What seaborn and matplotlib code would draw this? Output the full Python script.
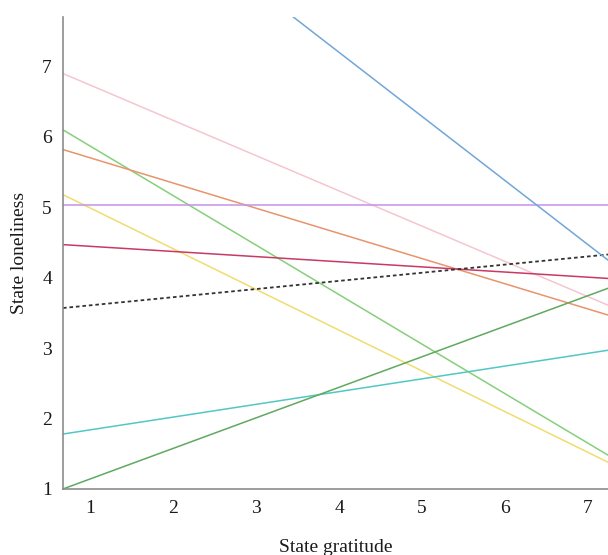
import matplotlib
matplotlib.use("Agg")
import matplotlib.pyplot as plt
import seaborn as sns
import pandas as pd

# Endpoints of each fitted line (x at left and right edge of the axes)
x_ends = [0.675, 7.24]
series = ["pink", "lightgreen", "orange", "yellow", "purple", "crimson",
          "overall", "cyan", "darkgreen", "blue"]
y_left = [6.90, 6.10, 5.82, 5.18, 5.03, 4.47, 3.57, 1.78, 1.00, 10.23]
y_right = [3.61, 1.48, 3.47, 1.38, 5.03, 3.99, 4.33, 2.97, 3.85, 4.25]
colors = ["#f5c6cf", "#86cf7a", "#e8946c", "#f0dc70", "#c690ec", "#c83a64",
          "#333333", "#52c7c4", "#5fa95f", "#72a6d8"]
x_ticks = [1, 2, 3, 4, 5, 6, 7]
y_ticks = [1, 2, 3, 4, 5, 6, 7]

rows = []
for s, yl, yr in zip(series, y_left, y_right):
    rows.append({"series": s, "x": x_ends[0], "y": yl})
    rows.append({"series": s, "x": x_ends[1], "y": yr})
df = pd.DataFrame(rows)

sns.set_theme(style="white")
plt.rcParams["font.family"] = ["Liberation Serif", "DejaVu Serif"]

fig = plt.figure(figsize=(6.08, 5.55), dpi=100)
ax = fig.add_axes([0.1036, 0.119, 0.8964, 0.85])

palette = dict(zip(series, colors))
dashes = {s: (2.0, 1.6) if s == "overall" else "" for s in series}
sns.lineplot(data=df, x="x", y="y", hue="series", style="series",
             palette=palette, dashes=dashes, linewidth=1.1, legend=False,
             ax=ax, sort=False)
for line in ax.lines:
    if line.get_color() == "#333333":
        line.set_linewidth(1.3)

ax.set_xlim(0.675, 7.24)
ax.set_ylim(1.0, 7.7)
ax.set_xticks(x_ticks)
ax.set_yticks(y_ticks)
ax.tick_params(axis="both", length=0, labelsize=14, colors="#1a1a1a", pad=8)
ax.set_xlabel("State gratitude", fontsize=14, labelpad=16, color="#1a1a1a")
ax.set_ylabel("State loneliness", fontsize=14, labelpad=10, color="#1a1a1a")
for side in ["top", "right"]:
    ax.spines[side].set_visible(False)
for side in ["left", "bottom"]:
    ax.spines[side].set_color("#8c8c8c")
    ax.spines[side].set_linewidth(1.2)

fig.savefig("out.png", dpi=100)
